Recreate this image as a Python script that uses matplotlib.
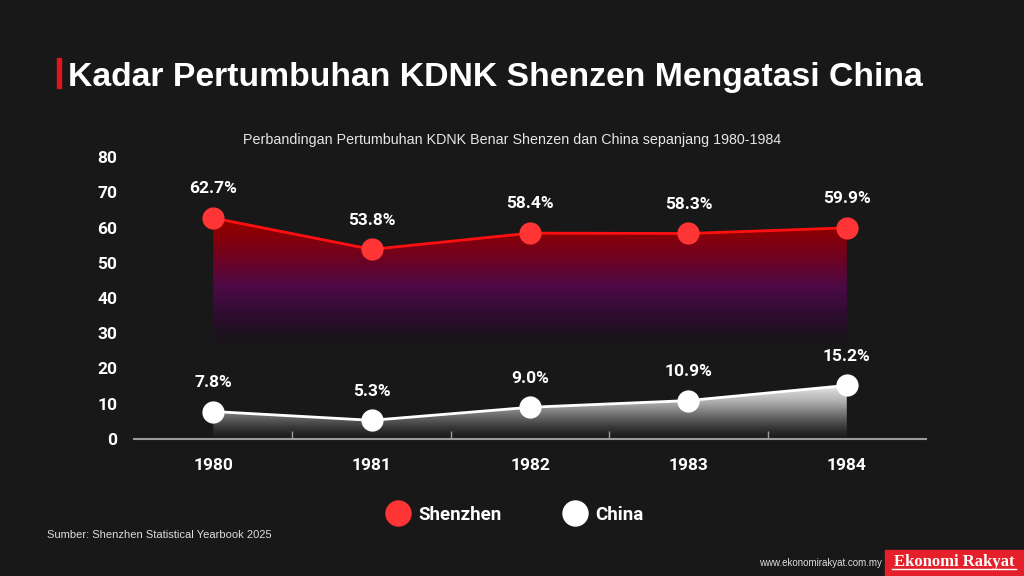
import matplotlib
matplotlib.use("Agg")
import matplotlib.pyplot as plt
import numpy as np
from matplotlib.lines import Line2D
from matplotlib.patches import Rectangle
from matplotlib.colors import to_rgb

years = ["1980", "1981", "1982", "1983", "1984"]
shenzhen = [62.7, 53.8, 58.4, 58.3, 59.9]
china = [7.8, 5.3, 9.0, 10.9, 15.2]
yticks = [0, 10, 20, 30, 40, 50, 60, 70, 80]

BG = "#181818"
RED = "#ff3434"
TITLE = "Kadar Pertumbuhan KDNK Shenzen Mengatasi China"
SUBTITLE = "Perbandingan Pertumbuhan KDNK Benar Shenzen dan China sepanjang 1980-1984"
SOURCE = "Sumber: Shenzhen Statistical Yearbook 2025"


def gradient(stops, n=400, top=80):
    # stops: (y value, colour, alpha), sorted by y
    ys = np.linspace(0, top, n)
    sv = [s[0] for s in stops]
    rgba = np.zeros((n, 1, 4))
    for c in range(3):
        rgba[:, 0, c] = np.interp(ys, sv, [to_rgb(s[1])[c] for s in stops])
    rgba[:, 0, 3] = np.interp(ys, sv, [s[2] for s in stops])
    return rgba[::-1]


def gradient_fill(ax, x, y, stops):
    fb = ax.fill_between(x, y, 0, color="none")
    img = ax.imshow(gradient(stops), extent=[-0.5, 4.5, 0, 80], aspect="auto",
                    zorder=1, interpolation="bilinear")
    img.set_clip_path(fb.get_paths()[0], ax.transData)


fig = plt.figure(figsize=(10.24, 5.76), dpi=100, facecolor=BG)

# title block
fig.patches.append(Rectangle((57 / 1024, 1 - 88 / 576), 4 / 1024, 30 / 576,
                             transform=fig.transFigure, color="#e0161e"))
fig.text(68 / 1024, 1 - 86 / 576, TITLE, color="white", fontsize=24.3,
         fontweight="bold", family="Liberation Sans", va="baseline")
fig.text(512 / 1024, 1 - 140 / 576, SUBTITLE, color="#e6e6e6", fontsize=10.3,
         family="Liberation Sans", ha="center", va="center")

ax = fig.add_axes([134 / 1024, 137 / 576, 792 / 1024, 282 / 576])
ax.set_facecolor("none")
x = np.arange(len(years))

gradient_fill(ax, x, shenzhen, [(0, "#1a1418", 0.0), (26, "#1c0f1c", 0.0),
                                (33, "#2a0d2c", 0.9), (43, "#4c0a48", 1.0),
                                (52, "#72021f", 1.0), (60, "#8e0000", 1.0),
                                (80, "#960000", 1.0)])
gradient_fill(ax, x, china, [(0, "#1e1e1e", 0.4), (4, "#4a4a4a", 0.9),
                             (10, "#a8a8a8", 1.0), (16, "#f2f2f2", 1.0),
                             (80, "#f2f2f2", 1.0)])

ax.plot(x, shenzhen, color="#ff1010", lw=2, zorder=3)
ax.plot(x, china, color="white", lw=2, zorder=3)
ax.plot(x, shenzhen, "o", color=RED, ms=16, mec="none", zorder=4)
ax.plot(x, china, "o", color="white", ms=16, mec="none", zorder=4)

for xi, v in zip(x, shenzhen):
    ax.annotate(f"{v:.1f}%", (xi, v), xytext=(0, 21), textcoords="offset points",
                ha="center", va="center", color="white", fontsize=12.5,
                family="Roboto", fontweight="bold")
for xi, v in zip(x, china):
    ax.annotate(f"{v:.1f}%", (xi, v), xytext=(0, 21), textcoords="offset points",
                ha="center", va="center", color="white", fontsize=12.5,
                family="Roboto", fontweight="bold")

ax.set_xlim(-0.5, 4.5)
ax.set_ylim(0, 80)
ax.set_yticks(yticks)
ax.set_xticks(x)
ax.set_xticklabels(years)
ax.set_xticks(x[:-1] + 0.5, minor=True)
for s in ["top", "right", "left"]:
    ax.spines[s].set_visible(False)
ax.spines["bottom"].set_color("#9a9a9a")
ax.spines["bottom"].set_linewidth(1.5)
ax.tick_params(axis="y", length=0, pad=12, labelcolor="white", labelsize=12.5)
ax.tick_params(axis="x", which="major", length=0, pad=14, labelcolor="white",
               labelsize=12.5)
ax.tick_params(axis="x", which="minor", direction="in", length=6, width=1,
               color="#9a9a9a")
for lab in ax.get_xticklabels() + ax.get_yticklabels():
    lab.set_family("Roboto")
    lab.set_fontweight("bold")

handles = [Line2D([], [], marker="o", ls="none", mfc=RED, mec="none", ms=19),
           Line2D([], [], marker="o", ls="none", mfc="white", mec="none", ms=19)]
leg = fig.legend(handles, ["Shenzhen", "China"], loc="center",
                 bbox_to_anchor=(515 / 1024, 1 - 515 / 576), ncol=2,
                 frameon=False, handlelength=1.2, handletextpad=0.5,
                 columnspacing=3.3, prop={"family": "Roboto", "weight": "bold",
                                          "size": 13.5})
for t in leg.get_texts():
    t.set_color("white")

fig.text(47 / 1024, 1 - 535 / 576, SOURCE, color="#dddddd", fontsize=8,
         family="Liberation Sans", va="center")
fig.text(882 / 1024, 1 - 563 / 576, "www.ekonomirakyat.com.my", color="#dddddd",
         fontsize=7, family="Liberation Sans", ha="right", va="center")
fig.patches.append(Rectangle((885 / 1024, 0), 139 / 1024, 26 / 576,
                             transform=fig.transFigure, color="#e4212a"))
fig.text(954 / 1024, 1 - 562 / 576, "Ekonomi Rakyat", color="white",
         fontsize=12, family="Liberation Serif", fontweight="bold",
         ha="center", va="center")
fig.lines.append(Line2D([892 / 1024, 1016 / 1024], [7 / 576, 7 / 576],
                        transform=fig.transFigure, color="white", lw=1))

fig.savefig("out.png", dpi=100, facecolor=BG)
